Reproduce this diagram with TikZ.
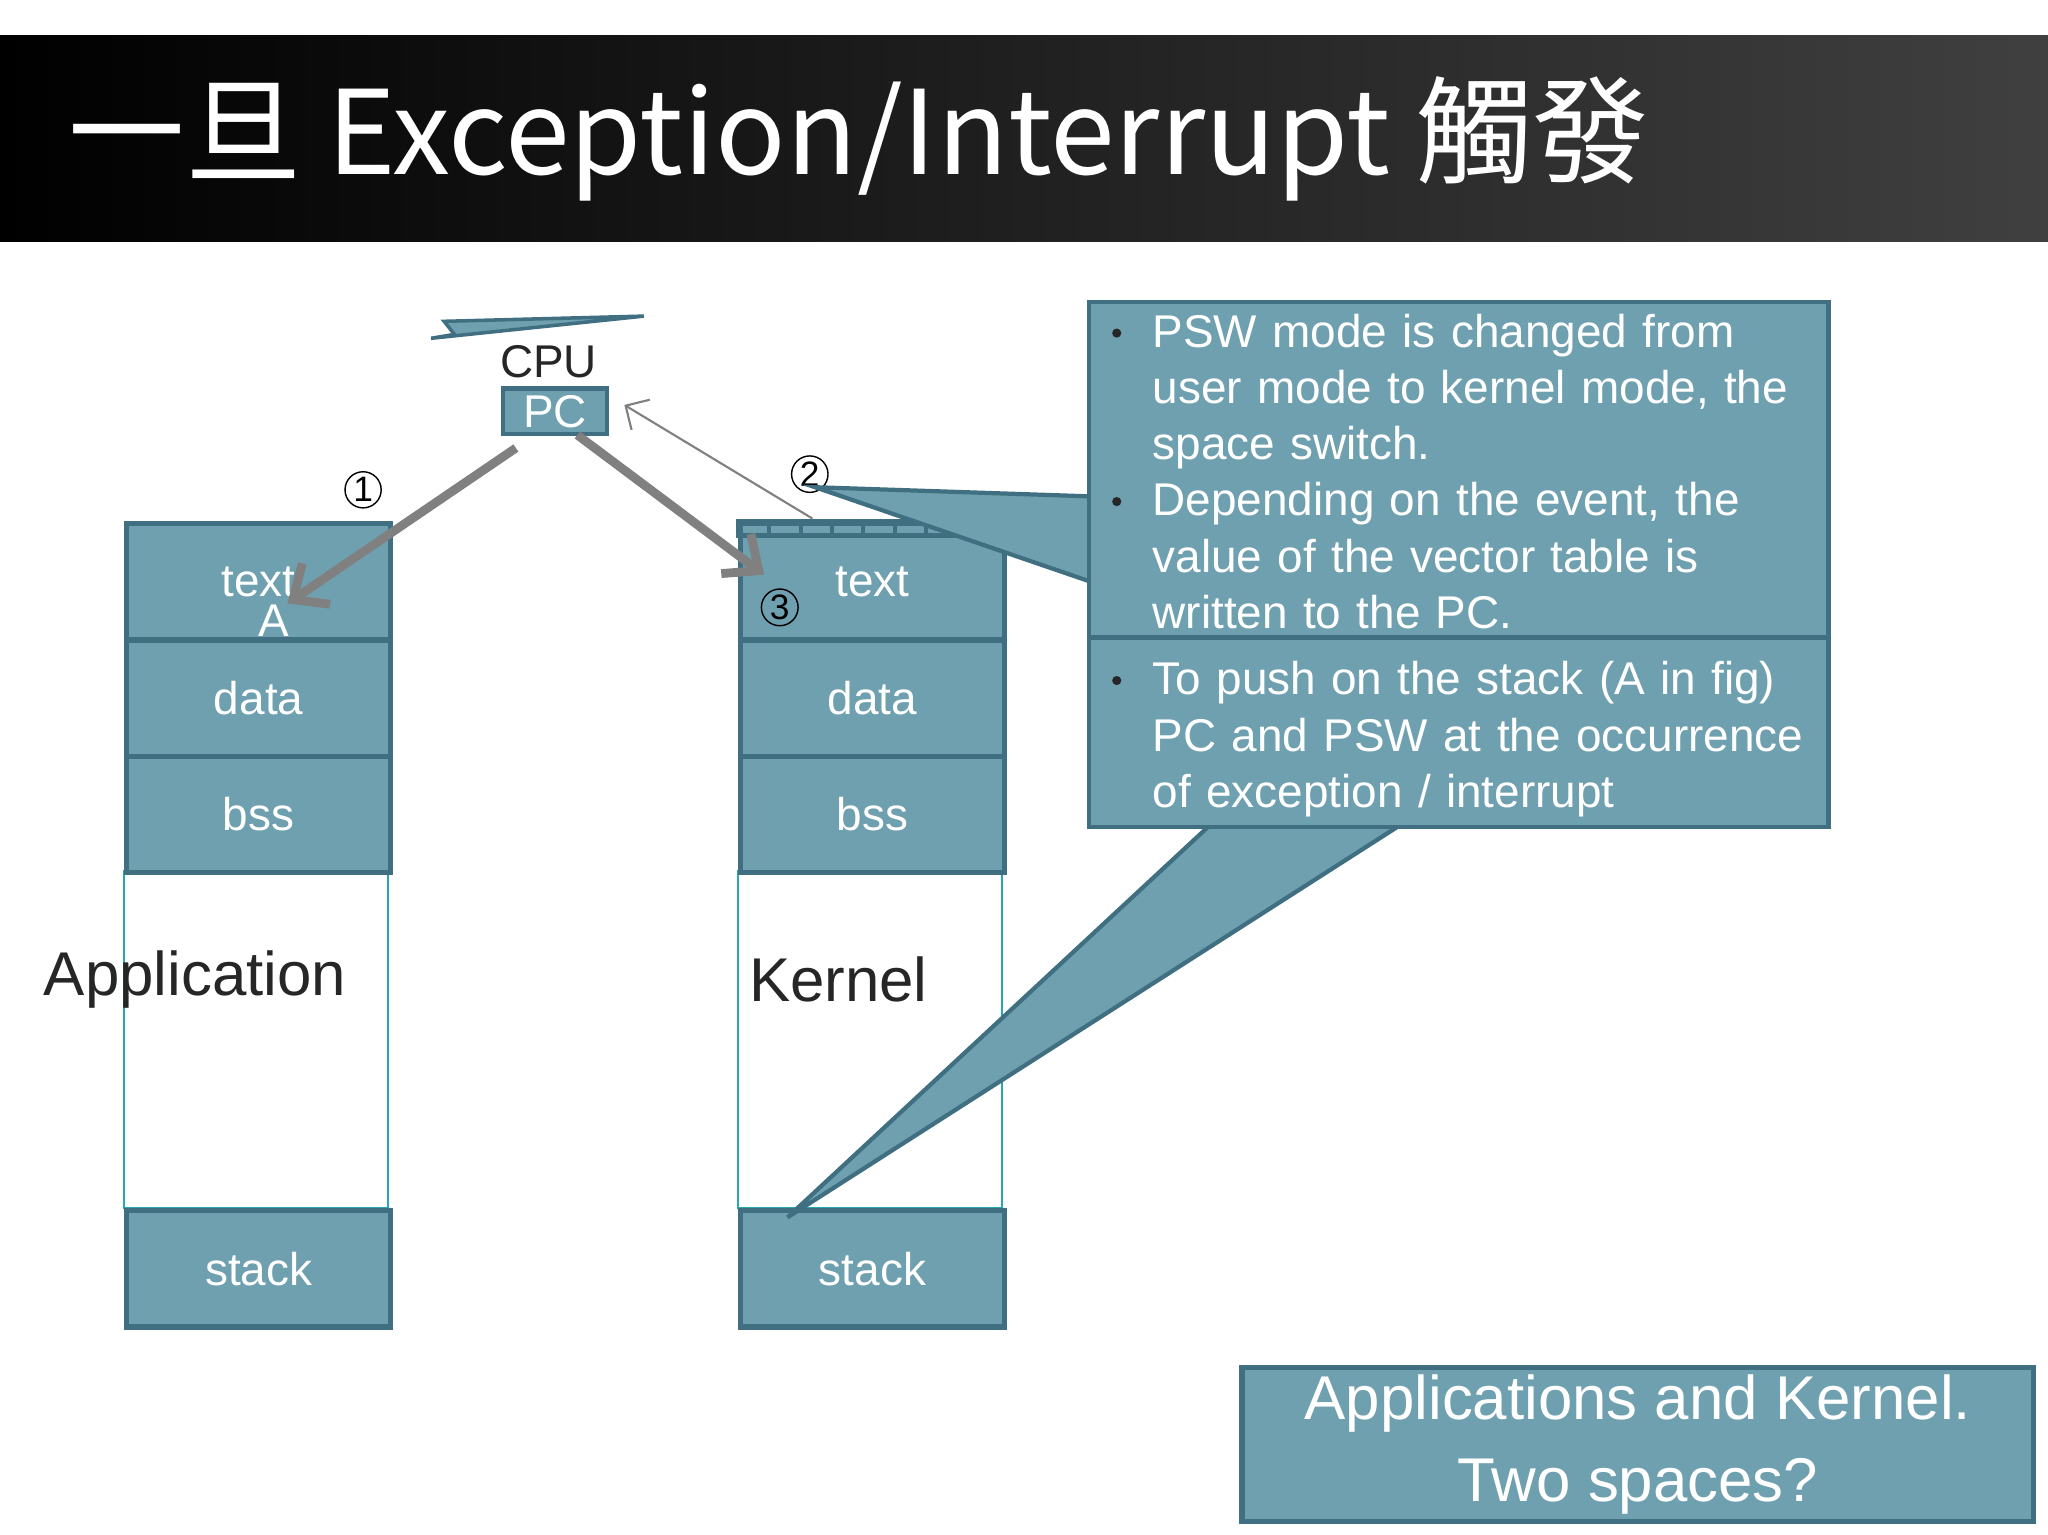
\documentclass[tikz,border=0pt]{standalone}
\usepackage{fontspec}
\setmainfont{Liberation Sans}
\newfontfamily\cjk{Noto Sans CJK TC}
\usetikzlibrary{positioning, arrows.meta, calc}
\definecolor{segfill}{HTML}{6FA0B0}
\definecolor{segline}{HTML}{3F6F80}
\definecolor{txtdark}{HTML}{262626}
\begin{document}
\begin{tikzpicture}[x=0.013cm, y=-0.013cm,
        seg/.style={rectangle, draw=segline, line width=1.5pt, fill=segfill, minimum width=202*0.013cm, minimum height=89*0.013cm, text=white, font=\fontsize{13}{16}\selectfont, anchor=north west, inner sep=0pt},
        call/.style={draw=segline, line width=1.2pt, fill=segfill},
        ptr/.style={draw=gray, line width=2.5pt, -{Straight Barb[length=8pt, width=14pt]}},
        num/.style={circle, draw, inner sep=0.5pt, font=\fontsize{10}{12}\selectfont},
        bullet/.style={text=white, font=\fontsize{13}{15.9}\selectfont, align=left, anchor=north west, inner sep=0pt, text width=515*0.013cm},
        big/.style={text=txtdark, font=\fontsize{17.5}{21}\selectfont, anchor=west, inner sep=0pt}
    ]
    \useasboundingbox (0,0) rectangle (1568,1175);
    \shade[left color=black, right color=black!75] (0,27) rectangle (1568,185);
    \node[anchor=west, text=white, font=\cjk\fontsize{33}{36}\selectfont, inner sep=0pt] (title) at (52,106) {一旦 Exception/Interrupt 觸發};

    % application space
    \draw[segline!60!cyan, line width=0.6pt] (95,667) rectangle (297,925);
    \node[seg] (atext) at (95,399) {text};
    \node[seg] (adata) at (95,488) {data};
    \node[seg] (abss) at (95,577) {bss};
    \node[seg] (astack) at (95,925) {stack};
    \node[text=white, font=\fontsize{13}{16}\selectfont, inner sep=0pt] (amark) at (210,475) {A};
    \node[big] (app) at (33,750) {Application};

    % kernel space
    \draw[segline!60!cyan, line width=0.6pt] (565,667) rectangle (767,925);
    \node[seg] (ktext) at (565,399) {text};
    \node[seg] (kdata) at (565,488) {data};
    \node[seg] (kbss) at (565,577) {bss};
    \node[seg] (kstack) at (565,925) {stack};
    \foreach \i in {0,...,6} {
        \draw[segline, line width=1.2pt] (565+24*\i,399) rectangle (589+24*\i,410);
    }
    \node[big] (kern) at (573,750) {Kernel};

    % cpu
    \fill[segfill, draw=segline, line width=1pt] (330,259) -- (493,242) -- (340,246) -- (348,256) -- cycle;
    \node[text=txtdark, font=\fontsize{13}{16}\selectfont, inner sep=0pt] (cpu) at (420,277) {CPU};
    \node[rectangle, draw=segline, line width=1.2pt, fill=segfill, minimum width=80*0.013cm, minimum height=35*0.013cm, text=white, font=\fontsize{13}{16}\selectfont, inner sep=0pt] (pc) at (425,315) {PC};

    \coordinate (p1s) at (395,343);
    \coordinate (p1e) at (220,462);
    \coordinate (p3s) at (442,333);
    \coordinate (p3e) at (585,440);
    \coordinate (p2s) at (622,397);
    \coordinate (p2e) at (478,310);
    \draw[ptr] (p1s) -- (p1e);
    \draw[ptr] (p3s) -- (p3e);
    \draw[gray, line width=0.6pt, -{Straight Barb[length=5pt, width=10pt]}] (p2s) -- (p2e);
    \node[num] (n1) at (278,375) {1};
    \node[num] (n2) at (620,363) {2};
    \node[num] (n3) at (597,465) {3};

    % callouts
    \fill[call] (834,380) -- (624,373) -- (834,445) -- cycle;
    \fill[call] (925,633) -- (603,932) -- (1070,633) -- cycle;
    \draw[call] (834,231) rectangle (1400,488);
    \draw[call] (834,488) rectangle (1400,633);
    \node[bullet] (b1) at (882,240) {PSW mode is changed from\\user mode to kernel mode, the\\space switch.};
    \node[bullet] (b2) at (882,369) {Depending on the event, the\\value of the vector table is\\written to the PC.};
    \node[bullet] (b3) at (882,506) {To push on the stack (A in fig)\\PC and PSW at the occurrence\\of exception / interrupt};
    \foreach \y in {255,384,521} {
        \fill[txtdark] (855,\y) circle (3.5);
    }

    \node[rectangle, draw=segline, line width=1.5pt, fill=segfill, minimum width=606*0.013cm, minimum height=118*0.013cm, text=white, font=\fontsize{17.5}{23}\selectfont, align=center, inner sep=0pt] (q) at (1254,1106) {Applications and Kernel.\\Two spaces?};
\end{tikzpicture}
\end{document}
